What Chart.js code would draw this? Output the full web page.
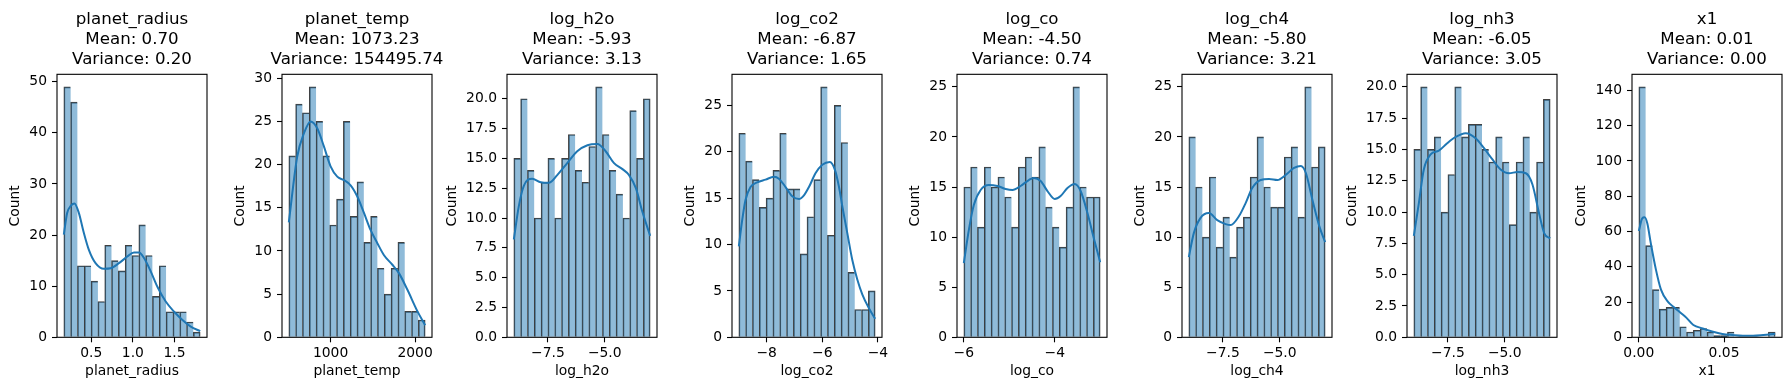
<!DOCTYPE html>
<html>
<head>
<meta charset="utf-8">
<script src="https://cdn.jsdelivr.net/npm/chart.js@4.4.1/dist/chart.umd.min.js"></script>
<style>
  html, body { margin: 0; padding: 0; background: #fff; }
  body { width: 1789px; height: 390px; position: relative; overflow: hidden; }
  canvas { position: absolute; top: 0; }
</style>
</head>
<body>
<script>
// Panel names and the stats printed in the titles
const names = ['planet_radius', 'planet_temp', 'log_h2o', 'log_co2', 'log_co', 'log_ch4', 'log_nh3', 'x1'];
const means = ['0.70', '1073.23', '-5.93', '-6.87', '-4.50', '-5.80', '-6.05', '0.01'];
const variances = ['0.20', '154495.74', '3.13', '1.65', '0.74', '3.21', '3.05', '0.00'];

// Histogram range (first bin edge, last bin edge), 20 bins each
const binLo = [0.171, 506, -9.0, -9.0, -6.0, -9.0, -9.0, 0.0];
const binHi = [1.809, 2119, -3.0, -4.1, -3.0, -3.0, -3.0, 0.08];

// Bar counts
const countsRadius = [49, 46, 14, 14, 11, 7, 18, 15, 13, 18, 16, 22, 16, 8, 14, 5, 5, 5, 3, 1];
const countsTemp = [21, 27, 26, 29, 25, 21, 13, 16, 25, 14, 18, 11, 14, 8, 5, 8, 11, 3, 3, 2];
const countsH2o = [15, 20, 14, 10, 13, 15, 10, 15, 17, 14, 13, 16, 21, 17, 14, 12, 10, 19, 15, 20];
const countsCo2 = [22, 19, 17, 14, 15, 18, 22, 16, 16, 9, 13, 17, 27, 11, 25, 21, 7, 3, 3, 5];
const countsCo = [15, 17, 11, 17, 15, 16, 14, 11, 17, 18, 16, 19, 13, 11, 9, 13, 25, 15, 14, 14];
const countsCh4 = [20, 15, 10, 16, 9, 12, 8, 11, 12, 16, 20, 15, 13, 13, 18, 19, 12, 25, 17, 19];
const countsNh3 = [15, 20, 15, 16, 10, 13, 20, 16, 17, 17, 15, 14, 16, 14, 9, 14, 16, 10, 14, 19];
const countsX1 = [142, 52, 27, 16, 17, 17, 6, 3, 4, 5, 3, 1, 1, 3, 0, 0, 0, 0, 0, 3];

// KDE curves: [x, count]
const kdeRadius = [[0.171, 20.1], [0.211, 24.3], [0.259, 25.8], [0.299, 26.2], [0.352, 24.3], [0.412, 20.4], [0.472, 17.1], [0.552, 14.5], [0.653, 13.4], [0.733, 13.5], [0.833, 14.5], [0.934, 15.8], [1.014, 16.6], [1.074, 16.6], [1.134, 15.5], [1.215, 12.9], [1.295, 9.9], [1.395, 7.0], [1.496, 5.0], [1.596, 3.4], [1.696, 2.1], [1.809, 1.2]];
const kdeTemp = [[506, 13.3], [605, 20.9], [684, 23.6], [763, 25.0], [842, 24.2], [921, 22.1], [1000, 19.8], [1079, 18.6], [1158, 18.2], [1237, 17.6], [1316, 16.3], [1395, 14.4], [1474, 12.4], [1553, 10.9], [1632, 9.5], [1731, 8.4], [1810, 7.4], [1909, 5.5], [2028, 3.0], [2119, 1.4]];
const kdeH2o = [[-9.0, 8.2], [-8.78, 11.0], [-8.56, 12.7], [-8.19, 13.3], [-7.82, 13.0], [-7.46, 12.95], [-7.09, 13.6], [-6.65, 14.6], [-6.21, 15.6], [-5.76, 16.1], [-5.32, 16.2], [-4.96, 15.6], [-4.59, 14.6], [-4.22, 14.1], [-3.93, 13.6], [-3.63, 12.5], [-3.34, 10.5], [-3.0, 8.5]];
const kdeCo2 = [[-9.0, 9.8], [-8.88, 12.6], [-8.76, 14.8], [-8.58, 16.2], [-8.34, 16.7], [-8.04, 17.0], [-7.74, 17.3], [-7.56, 17.1], [-7.32, 16.2], [-7.08, 15.2], [-6.84, 14.9], [-6.66, 15.3], [-6.48, 16.2], [-6.24, 17.7], [-6.0, 18.6], [-5.73, 18.9], [-5.54, 18.0], [-5.40, 16.2], [-5.28, 14.1], [-5.10, 11.2], [-4.92, 8.3], [-4.74, 6.2], [-4.56, 4.6], [-4.32, 3.1], [-4.10, 2.0]];
const kdeCo = [[-6.0, 7.4], [-5.89, 10.7], [-5.78, 13.2], [-5.63, 14.7], [-5.45, 15.2], [-5.26, 15.1], [-5.08, 14.8], [-4.93, 14.7], [-4.75, 15.1], [-4.57, 15.7], [-4.46, 15.9], [-4.31, 15.6], [-4.16, 14.6], [-4.0, 13.8], [-3.87, 14.1], [-3.72, 14.9], [-3.56, 15.3], [-3.43, 14.6], [-3.28, 12.4], [-3.13, 9.7], [-3.0, 7.5]];
const kdeCh4 = [[-9.0, 8.0], [-8.78, 10.4], [-8.49, 11.9], [-8.12, 12.4], [-7.75, 11.7], [-7.38, 11.3], [-7.16, 11.2], [-6.79, 12.1], [-6.50, 13.4], [-6.21, 14.9], [-5.84, 15.7], [-5.47, 15.8], [-5.10, 15.7], [-4.74, 16.2], [-4.37, 16.9], [-4.07, 17.1], [-3.85, 16.4], [-3.56, 13.7], [-3.26, 11.1], [-3.0, 9.5]];
const kdeNh3 = [[-9.0, 8.1], [-8.78, 10.7], [-8.56, 13.4], [-8.26, 14.6], [-7.90, 14.9], [-7.53, 15.5], [-7.16, 16.0], [-6.72, 16.3], [-6.28, 15.9], [-5.91, 15.1], [-5.54, 14.2], [-5.18, 13.4], [-4.81, 13.1], [-4.44, 13.2], [-4.07, 13.1], [-3.78, 12.2], [-3.49, 9.9], [-3.26, 8.3], [-3.0, 7.9]];
const kdeX1 = [[0, 60.3], [0.002, 67.4], [0.0034, 68.0], [0.005, 64.5], [0.007, 53.5], [0.010, 38.5], [0.013, 27.0], [0.017, 20.2], [0.021, 16.8], [0.025, 13.5], [0.028, 11.0], [0.032, 7.0], [0.0375, 5.0], [0.043, 3.3], [0.049, 1.9], [0.055, 1.3], [0.061, 0.9], [0.067, 0.9], [0.073, 1.3], [0.080, 2.0]];

// Tick values
const xTicks = [[0.5, 1.0, 1.5], [1000, 2000], [-7.5, -5.0], [-8, -6, -4], [-6, -4], [-7.5, -5.0], [-7.5, -5.0], [0, 0.05]];
const xTickDecimals = [1, 0, 1, 0, 0, 1, 1, 2];
const yTicks = [
    [0, 10, 20, 30, 40, 50],
    [0, 5, 10, 15, 20, 25, 30],
    [0, 2.5, 5, 7.5, 10, 12.5, 15, 17.5, 20],
    [0, 5, 10, 15, 20, 25],
    [0, 5, 10, 15, 20, 25],
    [0, 5, 10, 15, 20, 25],
    [0, 2.5, 5, 7.5, 10, 12.5, 15, 17.5, 20],
    [0, 20, 40, 60, 80, 100, 120, 140]
];
const yTickDecimals = [0, 0, 1, 0, 0, 0, 1, 0];

const allCounts = [countsRadius, countsTemp, countsH2o, countsCo2, countsCo, countsCh4, countsNh3, countsX1];
const allKde = [kdeRadius, kdeTemp, kdeH2o, kdeCo2, kdeCo, kdeCh4, kdeNh3, kdeX1];

// Layout (matplotlib tight_layout positions)
const AX0 = 57.3, STEP = 224.9, AW = 150, YW = 72, H = 390;
const XH = 52.7;
const TICK_PX = 13.89, TITLE_PX = 16.67;
const FONT = 'DejaVu Sans';

Chart.defaults.font.family = FONT;
Chart.defaults.color = '#000';

function fmt(v, d) {
    const s = Math.abs(v).toFixed(d);
    return v < 0 ? '\u2212' + s : s;
}

const measure = document.createElement('canvas').getContext('2d');
measure.font = TICK_PX + 'px "' + FONT + '"';

// Draws the four spines
const boxPlugin = {
    id: 'box',
    afterDatasetsDraw(chart) {
        const a = chart.chartArea, ctx = chart.ctx;
        ctx.save();
        ctx.strokeStyle = '#000';
        ctx.lineWidth = 1.1;
        ctx.strokeRect(a.left, a.top, a.right - a.left, a.bottom - a.top);
        ctx.restore();
    }
};

names.forEach(function(name, i) {
    const lo = binLo[i], hi = binHi[i];
    const counts = allCounts[i];
    const w = (hi - lo) / counts.length;
    const pad = (hi - lo) * 0.05;
    const ymax = Math.max(...counts) * 1.05;

    const yLabels = yTicks[i].map(v => fmt(v, yTickDecimals[i]));
    const labelW = Math.max(...yLabels.map(s => measure.measureText(s).width));
    const countPad = YW - (10 + labelW + 13.7) - TICK_PX * 0.6;

    const canvas = document.createElement('canvas');
    canvas.width = YW * 2 + AW;
    canvas.height = H;
    canvas.style.left = Math.round(AX0 + i * STEP - YW) + 'px';
    document.body.appendChild(canvas);

    const last = counts.length - 1;

    new Chart(canvas, {
        type: 'bar',
        data: {
            datasets: [{
                type: 'line',
                data: allKde[i].map(p => ({x: p[0], y: p[1]})),
                borderColor: '#1f77b4',
                borderWidth: 2,
                pointRadius: 0,
                cubicInterpolationMode: 'monotone',
                fill: false,
                order: 0
            }, {
                type: 'bar',
                data: counts.map((c, k) => ({x: lo + (k + 0.5) * w, y: c})),
                backgroundColor: 'rgba(31, 119, 180, 0.5)',
                borderColor: 'rgba(0, 0, 0, 0.75)',
                borderWidth: ctx => ({top: 1, left: 1, bottom: 0, right: ctx.dataIndex === last ? 1 : 0}),
                borderSkipped: false,
                barPercentage: 1,
                categoryPercentage: 1,
                order: 1
            }]
        },
        options: {
            responsive: false,
            animation: false,
            layout: { padding: 0 },
            plugins: {
                legend: { display: false },
                tooltip: { enabled: false },
                title: {
                    display: true,
                    text: [name, 'Mean: ' + means[i], 'Variance: ' + variances[i]],
                    font: { size: TITLE_PX, weight: 'normal', lineHeight: 1.2 },
                    color: '#000',
                    padding: { top: 9.9, bottom: 4.4 }
                }
            },
            scales: {
                x: {
                    type: 'linear',
                    offset: false,
                    min: lo - pad,
                    max: hi + pad,
                    grid: { display: true, offset: false, drawOnChartArea: false, drawTicks: true, tickLength: 5, tickWidth: 1.1, tickColor: '#000', color: '#000' },
                    border: { display: false },
                    ticks: {
                        autoSkip: false, maxRotation: 0, padding: 3,
                        font: { size: TICK_PX },
                        callback: v => fmt(v, xTickDecimals[i])
                    },
                    title: { display: true, text: name, font: { size: TICK_PX }, padding: { top: 0, bottom: 10.5 } },
                    afterBuildTicks: s => { s.ticks = xTicks[i].map(v => ({value: v})); },
                    afterFit: s => { s.height = XH; s.paddingLeft = 0; s.paddingRight = 0; }
                },
                y: {
                    type: 'linear',
                    min: 0,
                    max: ymax,
                    grid: { display: true, drawOnChartArea: false, drawTicks: true, tickLength: 5, tickWidth: 1.1, tickColor: '#000', color: '#000' },
                    border: { display: false },
                    ticks: {
                        autoSkip: false, padding: 5,
                        font: { size: TICK_PX },
                        callback: v => fmt(v, yTickDecimals[i])
                    },
                    title: { display: true, text: 'Count', font: { size: TICK_PX }, padding: { top: countPad, bottom: 0 } },
                    afterBuildTicks: s => { s.ticks = yTicks[i].map(v => ({value: v})); },
                    afterFit: s => { s.width = YW; s.paddingTop = 0; s.paddingBottom = 0; }
                },
                // empty right-hand axis so the title centres over the plot
                spacer: {
                    type: 'linear',
                    position: 'right',
                    grid: { display: false },
                    border: { display: false },
                    ticks: { display: false },
                    afterFit: s => { s.width = YW; s.paddingTop = 0; s.paddingBottom = 0; }
                }
            }
        },
        plugins: [boxPlugin]
    });
});
</script>
</body>
</html>
